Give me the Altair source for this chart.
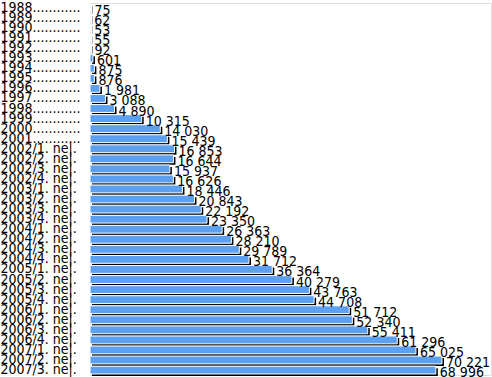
import altair as alt
import pandas as pd

categories = ["1988", "1989", "1990", "1991", "1992", "1993", "1994", "1995", "1996", "1997",
              "1998", "1999", "2000", "2001",
              "2002/1. ne|.", "2002/2. ne|.", "2002/3. ne|.", "2002/4. ne|.",
              "2003/1. ne|.", "2003/2. ne|.", "2003/3. ne|.", "2003/4. ne|.",
              "2004/1. ne|.", "2004/2. ne|.", "2004/3. ne|.", "2004/4. ne|.",
              "2005/1. ne|.", "2005/2. ne|.", "2005/3. ne|.", "2005/4. ne|.",
              "2006/1. ne|.", "2006/2. ne|.", "2006/3. ne|.", "2006/4. ne|.",
              "2007/1. ne|.", "2007/2. ne|.", "2007/3. ne|."]
values = [75, 62, 53, 55, 92, 601, 875, 876, 1981, 3088,
          4890, 10315, 14030, 15439,
          16853, 16644, 15937, 16626,
          18446, 20843, 22192, 23350,
          26363, 28210, 29789, 31712,
          36364, 40279, 43763, 44708,
          51712, 52340, 55411, 61296,
          65025, 70221, 68996]

def axis_label(c):
    return c + "............" if len(c) == 4 else c

def fmt(v):
    return f"{v:,}".replace(",", " ")

df = pd.DataFrame({
    "cat": [axis_label(c) for c in categories],
    "value": values,
    "label": [fmt(v) for v in values],
})

FONT = "Liberation Sans Narrow, DejaVu Sans Condensed, Arial Narrow, sans-serif"

y = alt.Y("cat:N", sort=None,
          scale=alt.Scale(paddingInner=0.22, paddingOuter=0.1),
          axis=alt.Axis(title=None, ticks=False, domain=False, labelAlign="left",
                        labelPadding=90, labelFont=FONT, labelFontSize=14,
                        labelColor="black", labelLimit=0, labelBaseline="middle"))
x = alt.X("value:Q", scale=alt.Scale(domain=[0, 80000], nice=False),
          axis=None)

base = alt.Chart(df).encode(y=y, x=x)

shadow = base.mark_bar(color="black", xOffset=2, yOffset=2, cornerRadius=0)
bars = base.mark_bar(color="#5ca0f2", stroke="white", strokeWidth=1)
text = base.mark_text(align="left", baseline="middle", dx=4, dy=3,
                      font=FONT, fontSize=14, color="black").encode(text="label:N")

chart = alt.layer(shadow, bars, text).properties(
    width=401, height=372,
    autosize=alt.AutoSizeParams(type="none"),
    padding={"left": 90, "top": 3, "right": 1, "bottom": 2},
).configure_view(stroke="black", strokeWidth=1).configure(background="white")

chart.save("out.html", embed_options={"renderer": "svg", "actions": False})
